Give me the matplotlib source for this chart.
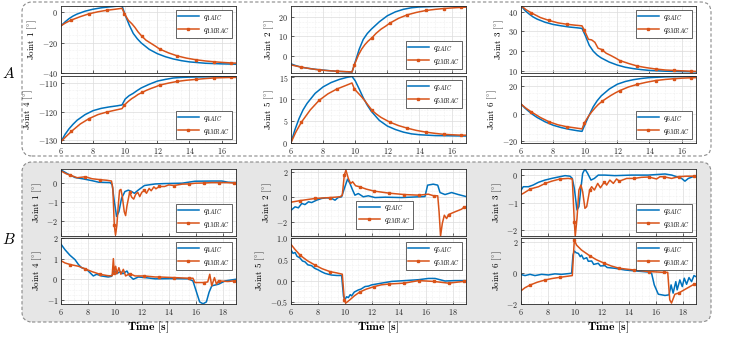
import numpy as np
import matplotlib
matplotlib.use('Agg')
import matplotlib.pyplot as plt
from matplotlib.patches import FancyBboxPatch
from matplotlib.transforms import IdentityTransform
from matplotlib.ticker import AutoMinorLocator

BLUE = '#0072BD'
ORANGE = '#D95319'

# ---- group A (step experiment), time axis 6..16.9 s
tA = [6.0, 6.25, 6.5, 6.75, 7.0, 7.5, 8.0, 8.5, 9.0, 9.5, 9.8, 10.0, 10.25, 10.5, 10.75,
      11.0, 11.5, 12.0, 12.5, 13.0, 13.5, 14.0, 15.0, 16.0, 16.9]
tA_m = [6.0, 6.3, 6.65, 7.2, 7.75, 8.3, 8.85, 9.4, 9.8, 9.95, 10.2, 10.4, 10.6, 10.8, 11.05,
        11.3, 11.6, 11.9, 12.15, 12.7, 13.25, 13.8, 14.4, 15.0, 15.5, 16.0, 16.6, 16.9]
marks_a = [6.65, 7.75, 8.85, 9.95, 11.05, 12.15, 13.25, 14.4, 15.5, 16.6]

a1_aic = [-9.0, -6.5, -4.3, -2.6, -1.3, 0.6, 1.9, 2.8, 3.4, 3.9, 4.1, -2.0, -8.5, -14.0, -17.5,
          -20.3, -24.5, -27.3, -29.3, -30.8, -31.9, -32.7, -33.6, -34.0, -34.2]
a1_mrac = [-9.0, -7.0, -5.2, -3.0, -1.1, 0.2, 1.2, 1.9, 2.5, -1.0, -5.5, -7.5, -10.0, -13.0, -16.0,
           -18.5, -20.5, -22.5, -24.3, -26.8, -28.8, -30.2, -31.3, -32.1, -32.6, -33.0, -33.4, -33.5]
a4_aic = [-130.5, -128.0, -126.0, -124.4, -123.0, -121.0, -119.6, -118.8, -118.3, -117.9, -117.6,
          -115.5, -114.3, -113.5, -112.5, -111.6, -110.3, -109.2, -108.6, -108.1, -107.9, -107.8,
          -107.7, -107.6, -107.6]
a4_mrac = [-130.5, -128.8, -126.9, -124.3, -122.4, -121.0, -120.1, -119.4, -118.9, -117.6, -116.3,
           -115.4, -114.7, -113.9, -113.2, -112.5, -111.8, -111.2, -110.6, -109.9, -109.3, -108.9,
           -108.6, -108.3, -108.1, -108.0, -107.9, -107.9]
a2_aic = [-4.0, -4.8, -5.4, -5.9, -6.2, -6.8, -7.2, -7.6, -7.9, -8.1, -8.2, -3.0, 3.5, 8.5, 11.5,
          13.7, 17.5, 20.6, 22.6, 23.9, 24.7, 25.1, 25.4, 25.5, 25.5]
a2_mrac = [-4.5, -5.1, -5.7, -6.5, -7.1, -7.5, -7.8, -8.0, -8.2, -4.5, 0.5, 3.5, 5.8, 7.6, 9.4,
           11.6, 13.7, 15.3, 16.8, 19.3, 21.1, 22.3, 23.3, 23.9, 24.3, 24.6, 24.9, 25.0]
a5_aic = [0.0, 3.0, 5.5, 7.5, 9.0, 11.3, 12.8, 13.8, 14.5, 15.0, 15.2, 14.2, 12.3, 10.3, 8.6,
          7.2, 5.1, 3.8, 3.0, 2.4, 2.0, 1.8, 1.6, 1.55, 1.5]
a5_mrac = [0.0, 2.4, 4.7, 7.5, 9.7, 11.2, 12.3, 13.1, 13.7, 12.3, 11.3, 10.5, 9.6, 8.6, 7.4,
           6.6, 5.8, 5.2, 4.7, 3.9, 3.3, 2.8, 2.4, 2.1, 1.9, 1.8, 1.7, 1.7]
a3_aic = [43.0, 40.5, 38.8, 37.3, 36.2, 34.6, 33.5, 32.8, 32.2, 31.8, 31.5, 28.0, 23.0, 20.0, 18.0,
          16.6, 14.5, 13.0, 11.9, 11.2, 10.7, 10.3, 9.9, 9.7, 9.6]
a3_mrac = [43.0, 41.0, 39.3, 37.0, 35.5, 34.3, 33.6, 33.1, 32.8, 30.5, 26.0, 25.7, 24.5, 21.5, 20.8,
           19.0, 17.8, 16.5, 15.3, 13.8, 12.5, 11.7, 11.0, 10.5, 10.3, 10.1, 9.9, 9.8]
a6_aic = [7.0, 4.0, 1.5, -0.8, -2.8, -6.0, -8.5, -10.2, -11.5, -12.5, -13.0, -7.5, -1.0, 5.0, 9.5,
          13.0, 18.0, 21.5, 23.5, 24.8, 25.7, 26.3, 26.9, 27.1, 27.2]
a6_mrac = [7.0, 4.0, 1.2, -2.8, -6.0, -8.2, -9.6, -10.5, -11.2, -6.7, -2.0, 1.2, 4.0, 6.5, 9.0,
           11.0, 13.3, 15.3, 16.8, 19.5, 21.4, 22.9, 24.2, 25.0, 25.5, 25.9, 26.2, 26.3]

# ---- group B (tracking errors), time axis 6..19 s
marks_b = [6.7, 7.8, 8.9, 9.96, 11.1, 12.2, 13.3, 14.4, 15.5, 16.6, 17.7, 18.85]

b1_t_aic = [6.0, 6.55, 7.05, 7.65, 8.3, 8.8, 9.65, 9.8, 9.96, 10.13, 10.3, 10.5, 10.75, 11.0, 11.25,
            11.45, 11.75, 12.2, 13.0, 13.7, 15.0, 15.95, 17.2, 17.95, 18.4, 19.0]
b1_aic = [0.65, 0.43, 0.26, 0.19, 0.10, 0.02, 0.0, -0.1, -0.97, -1.74, -1.5, -0.8, -0.46, -0.39, -0.46,
          -0.55, -0.38, -0.15, -0.07, -0.05, -0.03, 0.07, 0.08, 0.08, 0.02, 0.0]
b1_t_mrac = [6.0, 6.4, 6.7, 7.2, 7.8, 8.3, 8.9, 9.4, 9.75, 9.85, 9.96, 10.05, 10.15, 10.25, 10.35,
             10.45, 10.55, 10.7, 10.8, 10.9, 11.1, 11.25, 11.4, 11.55, 11.7, 11.85, 12.0, 12.2, 12.35,
             12.55, 12.7, 12.9, 13.05, 13.3, 13.7, 14.0, 14.4, 15.0, 15.5, 16.0, 16.6, 17.2, 17.7,
             18.3, 18.85, 19.0]
b1_mrac = [0.6, 0.45, 0.38, 0.25, 0.3, 0.2, 0.15, 0.12, 0.08, -0.3, -2.2, -2.7, -2.2, -1.2, -0.4,
           -0.35, -0.7, -1.5, -1.7, -1.2, -0.5, -0.75, -0.85, -0.6, -0.5, -0.72, -0.5, -0.4, -0.55,
           -0.3, -0.42, -0.22, -0.32, -0.2, -0.2, -0.12, -0.15, -0.08, -0.07, -0.03, -0.02, 0.0, 0.0,
           0.0, -0.02, 0.0]

b4_t_aic = [6.0, 6.3, 6.67, 7.04, 7.3, 7.53, 7.9, 8.15, 8.4, 8.65, 9.0, 9.5, 9.75, 9.96, 10.13,
            10.4, 10.6, 10.9, 11.1, 11.37, 11.75, 12.25, 13.0, 14.2, 15.45, 15.8, 16.07, 16.3, 16.55,
            16.8, 17.0, 17.2, 17.7, 18.2, 19.0]
b4_aic = [1.7, 1.43, 1.16, 0.95, 0.71, 0.56, 0.48, 0.32, 0.16, 0.24, 0.16, 0.11, 0.14, 0.43, 0.27,
          0.37, 0.27, 0.4, 0.16, 0.0, 0.11, 0.08, 0.02, 0.03, 0.02, -0.08, -0.63, -1.1, -1.19,
          -1.1, -0.63, -0.32, -0.24, -0.08, 0.0]
b4_t_mrac = [6.0, 6.3, 6.7, 7.3, 7.8, 8.3, 8.9, 9.5, 9.8, 9.89, 9.96, 10.06, 10.16, 10.3, 10.45,
             10.63, 10.8, 11.1, 11.5, 12.2, 13.0, 13.3, 14.4, 15.5, 15.8, 15.95, 16.6, 16.9, 17.05,
             17.2, 17.4, 17.55, 17.7, 18.4, 18.85, 19.0]
b4_mrac = [0.9, 0.79, 0.71, 0.63, 0.5, 0.37, 0.24, 0.17, 0.17, 1.0, 0.32, 0.63, 0.27, 0.56, 0.24,
           0.48, 0.16, 0.27, 0.16, 0.16, 0.11, 0.11, 0.08, 0.05, 0.05, -0.16, -0.16, -0.13, 0.24,
           -0.32, 0.08, -0.24, -0.08, -0.11, -0.08, -0.08]

b2_t_aic = [6.0, 6.3, 6.55, 6.8, 7.04, 7.3, 7.53, 7.9, 8.28, 8.65, 9.02, 9.27, 9.5, 9.76, 9.96,
            10.2, 10.38, 10.58, 10.75, 11.0, 11.37, 11.74, 12.24, 13.0, 14.2, 15.95, 16.15, 16.57,
            16.9, 17.07, 17.44, 17.93, 18.43, 19.0]
b2_aic = [-1.05, -0.77, -0.85, -0.5, -0.59, -0.37, -0.43, -0.24, -0.1, -0.05, -0.1, -0.24, -0.03,
          0.03, 0.69, 1.44, 1.09, 0.56, 0.16, 0.29, 0.03, 0.11, -0.03, 0.0, -0.03, 0.05, 0.96, 1.04,
          0.96, 0.37, 0.21, 0.37, 0.21, 0.05]
b2_t_mrac = [6.0, 6.7, 7.8, 8.9, 9.64, 9.81, 9.96, 10.08, 10.26, 10.43, 10.58, 10.8, 11.1, 11.6,
             12.2, 13.3, 14.4, 15.5, 16.2, 16.6, 16.9, 17.0, 17.11, 17.24, 17.39, 17.56, 17.7,
             18.18, 18.67, 18.85, 19.0]
b2_mrac = [-0.4, -0.27, -0.1, -0.03, 0.03, 0.16, 1.76, 2.16, 1.49, 1.09, 1.23, 0.91, 0.83, 0.64,
           0.48, 0.32, 0.21, 0.16, 0.24, 0.11, 0.11, -1.17, -3.1, -2.1, -1.44, -1.71, -1.39, -1.17,
           -0.96, -0.8, -0.75]

b5_t_aic = [6.0, 6.15, 6.3, 6.45, 6.67, 6.85, 7.04, 7.25, 7.53, 7.75, 8.03, 8.25, 8.52, 8.75, 9.02,
            9.4, 9.76, 9.9, 10.0, 10.13, 10.26, 10.4, 10.5, 10.7, 11.0, 11.2, 11.5, 11.75, 12.0,
            12.73, 13.47, 14.47, 15.45, 16.2, 16.7, 17.44, 18.18, 19.0]
b5_aic = [0.72, 0.64, 0.66, 0.57, 0.53, 0.46, 0.44, 0.37, 0.35, 0.29, 0.25, 0.21, 0.17, 0.15, 0.13,
          0.12, 0.12, -0.37, -0.45, -0.38, -0.4, -0.33, -0.36, -0.27, -0.22, -0.2, -0.14, -0.13,
          -0.1, -0.06, -0.02, 0.0, 0.02, 0.05, 0.05, -0.01, 0.0, 0.0]
b5_t_mrac = [6.0, 6.3, 6.7, 7.2, 7.8, 8.3, 8.9, 9.4, 9.81, 9.96, 10.06, 10.38, 10.7, 11.1, 11.6,
             12.2, 12.7, 13.3, 14.4, 15.5, 16.6, 17.7, 18.85, 19.0]
b5_mrac = [0.85, 0.73, 0.59, 0.47, 0.36, 0.28, 0.21, 0.18, 0.15, -0.45, -0.53, -0.45, -0.36, -0.27,
           -0.2, -0.14, -0.1, -0.08, -0.06, 0.0, -0.02, -0.06, -0.02, -0.02]

b3_t_aic = [6.0, 6.17, 6.55, 6.9, 7.3, 7.78, 8.28, 8.77, 9.27, 9.64, 9.81, 9.96, 10.16, 10.3, 10.45,
            10.58, 10.75, 10.95, 11.2, 11.45, 11.74, 12.24, 12.98, 14.2, 15.45, 16.7, 17.2, 17.93,
            18.18, 18.43, 19.0]
b3_aic = [-0.55, -0.42, -0.42, -0.36, -0.26, -0.18, -0.12, -0.07, -0.02, -0.04, -0.12, -0.48, -1.26,
          -1.14, -0.48, 0.06, 0.22, 0.06, -0.18, -0.12, 0.0, 0.0, -0.02, 0.0, 0.0, 0.04, 0.0, -0.12,
          -0.22, -0.12, -0.02]
b3_t_mrac = [6.0, 6.17, 6.7, 7.3, 7.8, 8.28, 8.9, 9.5, 9.81, 9.96, 10.03, 10.16, 10.3, 10.45, 10.58,
             10.75, 10.88, 11.1, 11.25, 11.45, 11.7, 11.9, 12.2, 12.36, 12.6, 12.86, 13.1, 13.3,
             13.85, 14.4, 14.96, 15.5, 16.07, 16.32, 16.6, 17.19, 17.7, 18.3, 18.85, 19.0]
b3_mrac = [-0.7, -0.66, -0.5, -0.42, -0.3, -0.22, -0.14, -0.12, -0.14, -1.68, -2.2, -1.56, -0.54,
           -0.36, -0.6, -1.2, -1.14, -0.54, -0.42, -0.54, -0.3, -0.46, -0.24, -0.36, -0.18, -0.3,
           -0.14, -0.22, -0.12, -0.12, -0.08, -0.07, -0.14, -0.06, -0.06, -0.12, -0.06, -0.04,
           -0.04, -0.04]

b6_t_aic = [6.0, 6.3, 6.67, 7.04, 7.53, 8.03, 8.52, 9.02, 9.76, 9.86, 9.96, 10.1, 10.26, 10.4, 10.5,
            10.65, 10.88, 11.0, 11.25, 11.4, 11.74, 11.9, 12.24, 12.4, 12.98, 13.72, 14.47, 15.45,
            15.7, 15.9, 16.2, 16.7, 17.0, 17.15, 17.3, 17.5, 17.6, 17.8, 17.98, 18.13, 18.3, 18.48,
            18.67, 18.85, 19.0]
b6_aic = [-0.1, -0.17, -0.09, -0.17, -0.09, -0.13, -0.06, -0.09, -0.02, 1.15, 1.41, 1.3, 1.26, 1.05,
          1.15, 0.9, 0.98, 0.75, 0.77, 0.55, 0.62, 0.45, 0.47, 0.35, 0.3, 0.19, 0.13, 0.06, -0.02,
          -0.77, -1.37, -1.45, -1.41, -0.77, -1.3, -0.56, -1.09, -0.45, -0.88, -0.34, -0.73, -0.3,
          -0.56, -0.17, -0.24]
b6_t_mrac = [6.0, 6.3, 6.7, 7.2, 7.8, 8.3, 8.9, 9.4, 9.81, 9.96, 10.13, 10.5, 11.1, 11.6, 12.2,
             12.7, 13.3, 14.4, 15.5, 16.6, 16.9, 17.05, 17.18, 17.43, 17.7, 18.3, 18.85, 19.0]
b6_mrac = [-1.15, -0.95, -0.77, -0.6, -0.45, -0.36, -0.28, -0.22, -0.17, 2.12, 1.79, 1.47, 1.11,
           0.85, 0.62, 0.45, 0.3, 0.19, 0.09, 0.04, 0.04, -1.73, -1.94, -1.37, -1.3, -1.0, -0.73,
           -0.7]

W, H = 747, 337


def add_axes(fig, left, top, right, bottom):
    # pixel box (top-left origin) -> figure fraction
    return fig.add_axes([left / W, 1 - bottom / H, (right - left) / W, (bottom - top) / H])


def draw(ax, tb, yb, to, yo, marks, n, ylim, yticks, xlim, xticks, loc, anchor=None, xlabels=False):
    ax.plot(tb, yb, color=BLUE, lw=1.1, label=rf'$q_{{{n}AIC}}$')
    idx = [int(np.argmin(np.abs(np.asarray(to) - m))) for m in marks]
    ax.plot(to, yo, color=ORANGE, lw=1.1, marker='s', ms=2.0, markevery=idx,
            label=rf'$q_{{{n}MRAC}}$')
    ax.set_xlim(xlim)
    ax.set_ylim(ylim)
    ax.set_xticks(xticks)
    ax.set_yticks(yticks)
    ax.xaxis.set_minor_locator(AutoMinorLocator(4))
    ax.yaxis.set_minor_locator(AutoMinorLocator(4))
    ax.grid(True, which='major', color='#dcdcdc', lw=0.5)
    ax.grid(True, which='minor', color='#e4e4e4', lw=0.4, ls=':')
    ax.set_axisbelow(True)
    ax.set_facecolor('white')
    for s in ax.spines.values():
        s.set_color('#262626')
        s.set_linewidth(0.6)
    ax.tick_params(which='both', direction='in', labelsize=5.8, length=2, width=0.5, pad=2,
                   colors='#262626')
    ax.tick_params(which='minor', length=0)
    if not xlabels:
        ax.tick_params(axis='x', labelbottom=False)
    ax.set_ylabel(rf'Joint {n} [$^{{\circ}}$]', fontsize=6.5, labelpad=2)
    leg = ax.legend(loc=loc, bbox_to_anchor=anchor, fontsize=5.8, fancybox=False,
                    handlelength=2.6, borderpad=0.3, labelspacing=0.3, handletextpad=0.5,
                    borderaxespad=0.5)
    leg.get_frame().set_edgecolor('#262626')
    leg.get_frame().set_linewidth(0.5)
    leg.get_frame().set_alpha(1)


def main():
    plt.rcParams['font.family'] = 'serif'
    plt.rcParams['font.serif'] = ['cmr10']
    plt.rcParams['mathtext.fontset'] = 'cm'
    plt.rcParams['axes.unicode_minus'] = False
    plt.rcParams['axes.formatter.use_mathtext'] = True

    fig = plt.figure(figsize=(W / 100, H / 100), dpi=100)

    # dashed rounded group frames (pixel coordinates, origin bottom-left)
    box_a = FancyBboxPatch((22, H - 156), 689, 154, boxstyle='round,pad=0,rounding_size=10',
                           transform=IdentityTransform(), facecolor='white', edgecolor='#8a8a8a',
                           lw=0.8, ls=(0, (3, 2)), zorder=-1)
    box_b = FancyBboxPatch((22, H - 322), 689, 160, boxstyle='round,pad=0,rounding_size=10',
                           transform=IdentityTransform(), facecolor='#e6e6e6', edgecolor='#8a8a8a',
                           lw=0.8, ls=(0, (3, 2)), zorder=-1)
    fig.add_artist(box_a)
    fig.add_artist(box_b)

    fig.text(9 / W, 1 - 74 / H, r'$A$', fontsize=11, ha='center', va='center')
    fig.text(9 / W, 1 - 240 / H, r'$B$', fontsize=11, ha='center', va='center')

    cols = [61, 291, 521]
    xa, xta = (6, 16.9), [6, 8, 10, 12, 14, 16]
    xb, xtb = (6, 19), [6, 8, 10, 12, 14, 16, 18]
    time_label = r'$\mathbf{Time\ [s]}$'

    # group A
    ax = add_axes(fig, cols[0], 6, cols[0] + 175, 73)
    draw(ax, tA, a1_aic, tA_m, a1_mrac, marks_a, 1, (-40, 4), [-40, -20, 0], xa, xta, 'upper right')
    ax = add_axes(fig, cols[0], 76, cols[0] + 175, 143)
    draw(ax, tA, a4_aic, tA_m, a4_mrac, marks_a, 4, (-131, -107.4), [-130, -120, -110], xa, xta,
         'lower right', xlabels=True)
    ax = add_axes(fig, cols[1], 6, cols[1] + 175, 73)
    draw(ax, tA, a2_aic, tA_m, a2_mrac, marks_a, 2, (-8.7, 25.6), [0, 10, 20], xa, xta, 'lower right')
    ax = add_axes(fig, cols[1], 76, cols[1] + 175, 143)
    draw(ax, tA, a5_aic, tA_m, a5_mrac, marks_a, 5, (-0.1, 15.3), [0, 5, 10, 15], xa, xta,
         'upper right', xlabels=True)
    ax = add_axes(fig, cols[2], 6, cols[2] + 175, 73)
    draw(ax, tA, a3_aic, tA_m, a3_mrac, marks_a, 3, (9, 42.8), [10, 20, 30, 40], xa, xta, 'upper right')
    ax = add_axes(fig, cols[2], 76, cols[2] + 175, 143)
    draw(ax, tA, a6_aic, tA_m, a6_mrac, marks_a, 6, (-21.5, 27.5), [-20, 0, 20], xa, xta,
         'lower right', xlabels=True)

    # group B
    ax = add_axes(fig, cols[0], 169, cols[0] + 175, 236)
    draw(ax, b1_t_aic, b1_aic, b1_t_mrac, b1_mrac, marks_b, 1, (-2.75, 0.7), [-2, -1, 0], xb, xtb,
         'lower right')
    ax = add_axes(fig, cols[0], 238, cols[0] + 175, 304)
    draw(ax, b4_t_aic, b4_aic, b4_t_mrac, b4_mrac, marks_b, 4, (-1.2, 2.0), [-1, 0, 1, 2], xb, xtb,
         'upper right', xlabels=True)
    ax.set_xlabel(time_label, fontsize=8.5, labelpad=2)
    ax = add_axes(fig, cols[1], 169, cols[1] + 175, 236)
    draw(ax, b2_t_aic, b2_aic, b2_t_mrac, b2_mrac, marks_b, 2, (-3.1, 2.25), [-2, 0, 2], xb, xtb,
         'lower left', anchor=(0.35, 0.05))
    ax = add_axes(fig, cols[1], 238, cols[1] + 175, 304)
    draw(ax, b5_t_aic, b5_aic, b5_t_mrac, b5_mrac, marks_b, 5, (-0.55, 0.98), [-0.5, 0, 0.5, 1], xb,
         xtb, 'upper right', xlabels=True)
    ax.set_xlabel(time_label, fontsize=8.5, labelpad=2)
    ax = add_axes(fig, cols[2], 169, cols[2] + 175, 236)
    draw(ax, b3_t_aic, b3_aic, b3_t_mrac, b3_mrac, marks_b, 3, (-2.2, 0.22), [-2, -1, 0], xb, xtb,
         'lower right')
    ax = add_axes(fig, cols[2], 238, cols[2] + 175, 304)
    draw(ax, b6_t_aic, b6_aic, b6_t_mrac, b6_mrac, marks_b, 6, (-2.0, 2.25), [-2, 0, 2], xb, xtb,
         'upper right', xlabels=True)
    ax.set_xlabel(time_label, fontsize=8.5, labelpad=2)

    fig.savefig('out.png', dpi=100)


if __name__ == '__main__':
    main()
